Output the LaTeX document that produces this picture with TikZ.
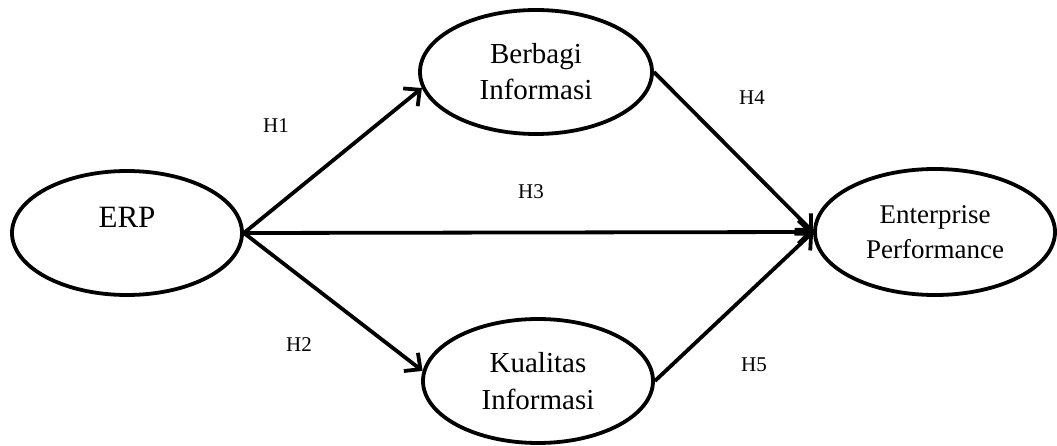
\documentclass[tikz,border=0pt]{standalone}
\usepackage{fontspec}
\setmainfont{Liberation Serif}
\usetikzlibrary{shapes.geometric,arrows.meta}
\tikzset{
  oval/.style={draw=black, line width=3.8pt, ellipse, inner sep=0pt, align=center},
  arr/.style={draw=black, line width=3.8pt, -{Straight Barb[length=12pt,width=23pt,line width=3.8pt]}},
  hlab/.style={font=\fontsize{21}{24}\selectfont, inner sep=0pt}
}
\begin{document}
\begin{tikzpicture}[x=1pt,y=1pt]
\useasboundingbox (0,0) rectangle (1057,445);
\node[oval, minimum width=230pt, minimum height=124pt, font=\fontsize{31}{35}\selectfont, text height=21pt, text depth=33pt] (erp) at (127,212) {ERP};
\node[oval, minimum width=232pt, minimum height=124pt, font=\fontsize{29}{36}\selectfont] (berb) at (536,373) {Berbagi\\Informasi};
\node[oval, minimum width=230pt, minimum height=124pt, font=\fontsize{29}{37}\selectfont] (kual) at (538,64) {Kualitas\\Informasi};
\node[oval, minimum width=240pt, minimum height=126pt, font=\fontsize{27}{35}\selectfont] (ent) at (935,213) {Enterprise\\Performance};
\draw[arr] (erp.east) -- (berb.188);
\draw[arr] (erp.east) -- (kual.175);
\draw[arr] (erp.east) -- (ent.west);
\draw[arr] (berb.east) -- (ent.west);
\draw[arr] (kual.east) -- (ent.west);
\node[hlab] (h1) at (276,319) {H1};
\node[hlab] (h2) at (299,100) {H2};
\node[hlab] (h3) at (531,253) {H3};
\node[hlab] (h4) at (752,347) {H4};
\node[hlab] (h5) at (754,80) {H5};
\end{tikzpicture}
\end{document}
